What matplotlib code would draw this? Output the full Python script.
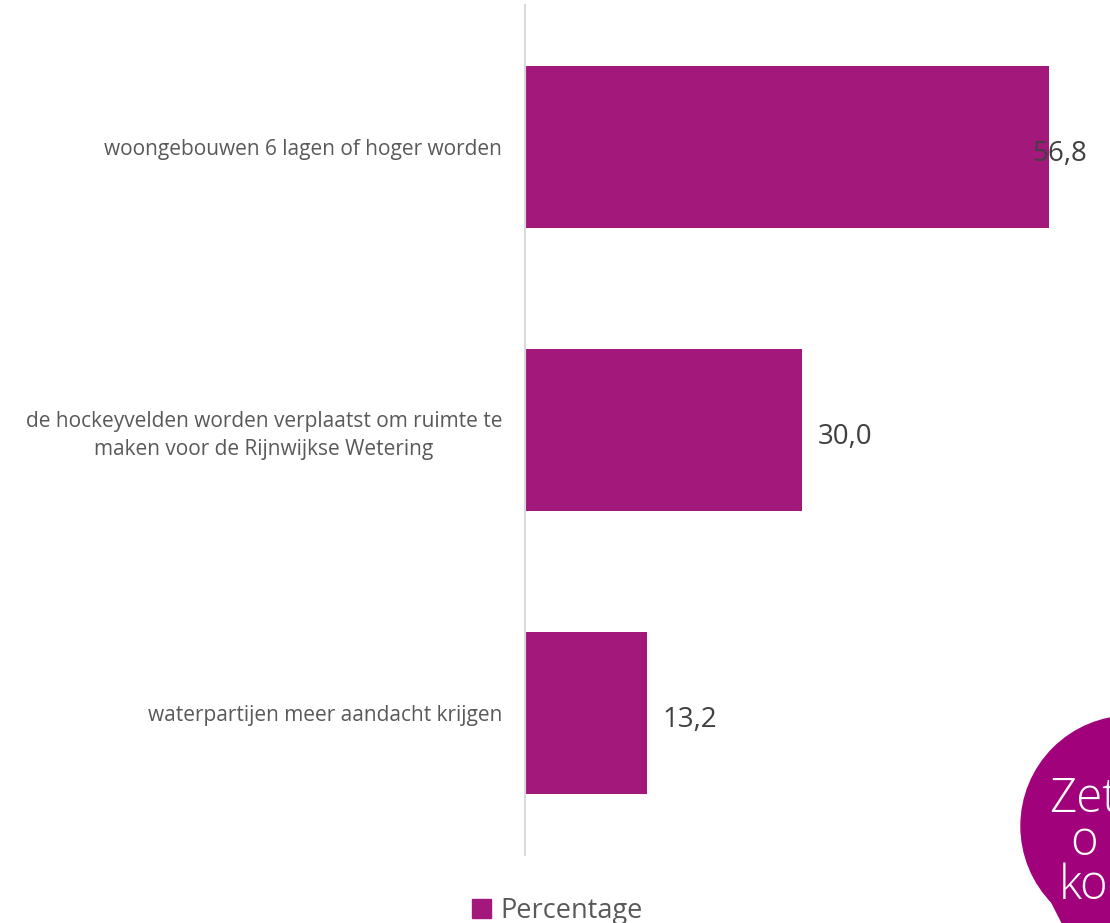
import matplotlib.pyplot as plt
import matplotlib.patches as mpatches

plt.rcParams['font.family'] = ['Open Sans', 'DejaVu Sans']

categories = [
    "woongebouwen 6 lagen of hoger worden",
    "de hockeyvelden worden verplaatst om ruimte te\nmaken voor de Rijnwijkse Wetering",
    "waterpartijen meer aandacht krijgen",
]
values = [56.8, 30.0, 13.2]
value_labels = ["56,8", "30,0", "13,2"]
series_name = "Percentage"

BAR_COLOR = "#A3187B"
TEXT_GRAY = "#595959"

W, H = 1110, 923
fig = plt.figure(figsize=(W / 100, H / 100), dpi=100)
# axes from x=525 to right edge, y=5 to 855 (pixels)
ax = fig.add_axes([525 / W, (H - 855) / H, (W - 525) / W, 850 / H])

ypos = list(range(len(values)))
ax.barh(ypos, values, height=0.572, color=BAR_COLOR, zorder=2)
ax.set_xlim(0, (W - 525) / 9.225)
ax.set_ylim(len(values) - 0.5, -0.5)

for s in ["top", "right", "bottom"]:
    ax.spines[s].set_visible(False)
ax.spines["left"].set_color("#D9D9D9")
ax.spines["left"].set_linewidth(1.5)
ax.set_xticks([])
ax.set_yticks(ypos)
ax.set_yticklabels(categories, fontsize=15, color=TEXT_GRAY, linespacing=1.4)
for lbl in ax.get_yticklabels():
    lbl.set_multialignment("center")
ax.tick_params(axis="y", length=0, pad=16.5)

# value labels; the largest one is pulled back so it stays inside the figure
xmax = ax.get_xlim()[1]
for y, v, txt in zip(ypos, values, value_labels):
    x = v + 1.75
    if x > xmax - 6.5:
        x = v - 1.85
    ax.text(x, y + 0.025, txt, va="center", ha="left", fontsize=20, color="#404040", zorder=3)

handle = mpatches.Patch(color=BAR_COLOR)
fig.legend([handle], [series_name], loc="center", bbox_to_anchor=(557 / W, (H - 911) / H),
           frameon=False, fontsize=19.5, handlelength=0.7, handleheight=0.7,
           handletextpad=0.35, labelcolor=TEXT_GRAY, borderpad=0)

# decorative speech-bubble badge in the bottom right corner
BLOB = "#A1027B"
circ = mpatches.Ellipse((1131 / W, (H - 826) / H), 220 / W, 220 / H,
                        transform=fig.transFigure, color=BLOB, zorder=5)
fig.patches.append(circ)
tail = mpatches.Polygon([(1035 / W, (H - 870) / H), (1110 / W, (H - 870) / H),
                         (1110 / W, 0), (1062 / W, 0)],
                        closed=True, transform=fig.transFigure, color=BLOB, zorder=5)
fig.patches.append(tail)
fig.text(1084 / W, (H - 843) / H, "Zet\no\nko", color="white", fontsize=34,
         va="center", ha="center", multialignment="center", linespacing=0.86,
         fontweight="light", zorder=6)

fig.savefig("out.png", dpi=100)
